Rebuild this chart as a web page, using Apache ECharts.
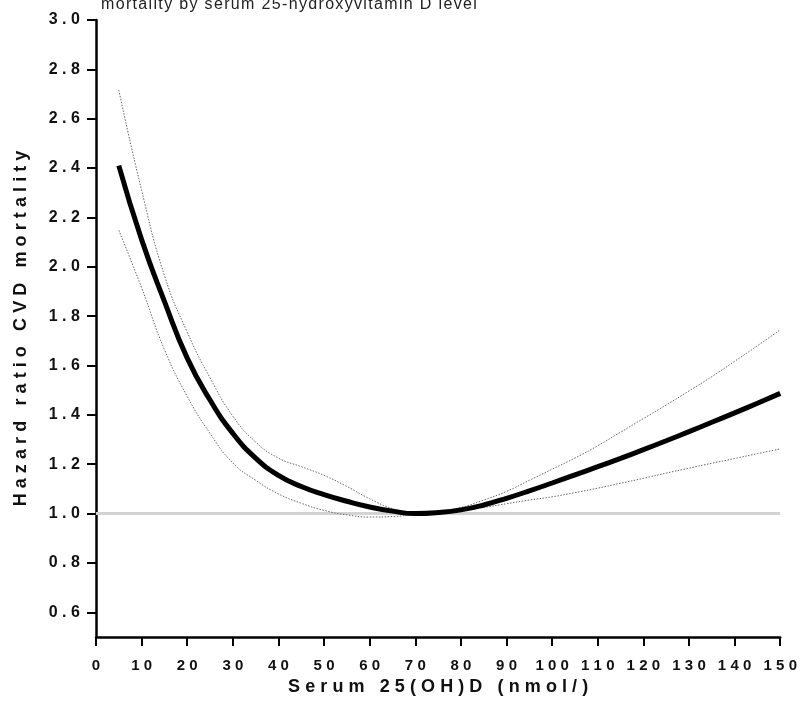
<!DOCTYPE html>
<html>
<head>
<meta charset="utf-8">
<script src="https://cdn.jsdelivr.net/npm/echarts@6/dist/echarts.min.js"></script>
<style>
  html, body { margin: 0; padding: 0; background: #fff; }
  #main { width: 800px; height: 717px; }
</style>
</head>
<body>
<div id="main"></div>
<script>
// serum 25(OH)D, nmol/l
var serum = [5, 10, 15, 20, 25, 30, 35, 40, 45, 50, 55, 60, 65, 70, 75,
             80, 85, 90, 95, 100, 105, 110, 115, 120, 125, 130, 135, 140, 145, 150];
// hazard ratio estimate
var hazard = [2.41, 2.11, 1.86, 1.63, 1.46, 1.325, 1.225, 1.155, 1.11, 1.077, 1.05, 1.027, 1.01, 1.0, 1.004,
              1.015, 1.035, 1.062, 1.092, 1.124, 1.157, 1.19, 1.224, 1.259, 1.295, 1.332, 1.37, 1.408, 1.447, 1.487];
// 95% CI
var upperCI = [2.716, 2.31, 1.965, 1.735, 1.55, 1.395, 1.29, 1.225, 1.19, 1.155, 1.11, 1.06, 1.02, 1.0, 1.008,
               1.025, 1.055, 1.09, 1.135, 1.18, 1.225, 1.275, 1.33, 1.385, 1.44, 1.497, 1.555, 1.617, 1.68, 1.745];
var lowerCI = [2.148, 1.915, 1.665, 1.475, 1.325, 1.205, 1.135, 1.08, 1.042, 1.013, 0.995, 0.986, 0.988, 0.997, 1.004,
               1.013, 1.025, 1.04, 1.055, 1.068, 1.085, 1.103, 1.123, 1.143, 1.164, 1.184, 1.204, 1.223, 1.243, 1.262];
var refValue = 1.0;
// y tick marks and labels
var yTicks = [0.6, 0.8, 1.0, 1.2, 1.4, 1.6, 1.8, 2.0, 2.2, 2.4, 2.6, 2.8, 3.0];

var fontFam = '"Liberation Sans", Arial, sans-serif';

function spaced(s, gap) {
	return String(s).split('').join(gap || '\u2009\u200A');
}
function pairs(ys) {
	return serum.map(function (x, i) { return [x, ys[i]]; });
}

var myChart = echarts.init(document.getElementById('main'));

var option = {
	backgroundColor: '#fff',
	animation: false,
	title: {
		text: spaced('mortality by serum 25-hydroxyvitamin D level', '\u200A'),
		left: 96,
		top: -8,
		textStyle: {
			color: '#222',
			fontFamily: fontFam,
			fontSize: 16,
			fontWeight: 'normal'
		}
	},
	grid: {
		left: 96,
		right: 18,
		top: 20,
		bottom: 80
	},
	xAxis: {
		type: 'value',
		min: 0,
		max: 150,
		interval: 10,
		name: spaced('Serum 25(OH)D (nmol/)'),
		nameLocation: 'middle',
		nameGap: 40,
		nameTextStyle: {
			color: '#111',
			fontFamily: fontFam,
			fontSize: 18,
			fontWeight: 'bold'
		},
		axisLine: { lineStyle: { color: '#000', width: 2.5 } },
		axisTick: { length: 9, lineStyle: { color: '#000', width: 2 } },
		splitLine: { show: false },
		axisLabel: {
			color: '#111',
			fontFamily: fontFam,
			fontSize: 15,
			fontWeight: 'bold',
			margin: 21,
			formatter: function (v) { return spaced(v); }
		}
	},
	yAxis: {
		type: 'value',
		min: 0.5,
		max: 3.0,
		name: spaced('Hazard ratio CVD mortality'),
		nameLocation: 'middle',
		nameGap: 66,
		nameTextStyle: {
			color: '#111',
			fontFamily: fontFam,
			fontSize: 18,
			fontWeight: 'bold'
		},
		axisLine: { show: true, lineStyle: { color: '#000', width: 2.5 } },
		axisTick: { show: true, length: 9, customValues: yTicks, lineStyle: { color: '#000', width: 2 } },
		splitLine: { show: false },
		axisLabel: {
			color: '#111',
			fontFamily: fontFam,
			fontSize: 16,
			fontWeight: 'bold',
			margin: 16,
			customValues: yTicks,
			formatter: function (v) { return spaced(v.toFixed(1)); }
		}
	},
	series: [{
		name: 'Lower CI',
		type: 'line',
		smooth: true,
		symbol: 'none',
		z: 2,
		data: pairs(lowerCI),
		lineStyle: { color: '#666', width: 1, type: [1.5, 1.5] },
		markLine: {
			silent: true,
			symbol: 'none',
			label: { show: false },
			z: 1,
			lineStyle: { color: '#d3d3d3', width: 3, type: 'solid' },
			data: [{ yAxis: refValue }]
		}
	}, {
		name: 'Upper CI',
		type: 'line',
		smooth: true,
		symbol: 'none',
		z: 2,
		data: pairs(upperCI),
		lineStyle: { color: '#666', width: 1, type: [1.5, 1.5] }
	}, {
		name: 'Hazard ratio',
		type: 'line',
		smooth: true,
		symbol: 'none',
		z: 3,
		data: pairs(hazard),
		lineStyle: { color: '#000', width: 5 }
	}]
};

myChart.setOption(option);
</script>
</body>
</html>
